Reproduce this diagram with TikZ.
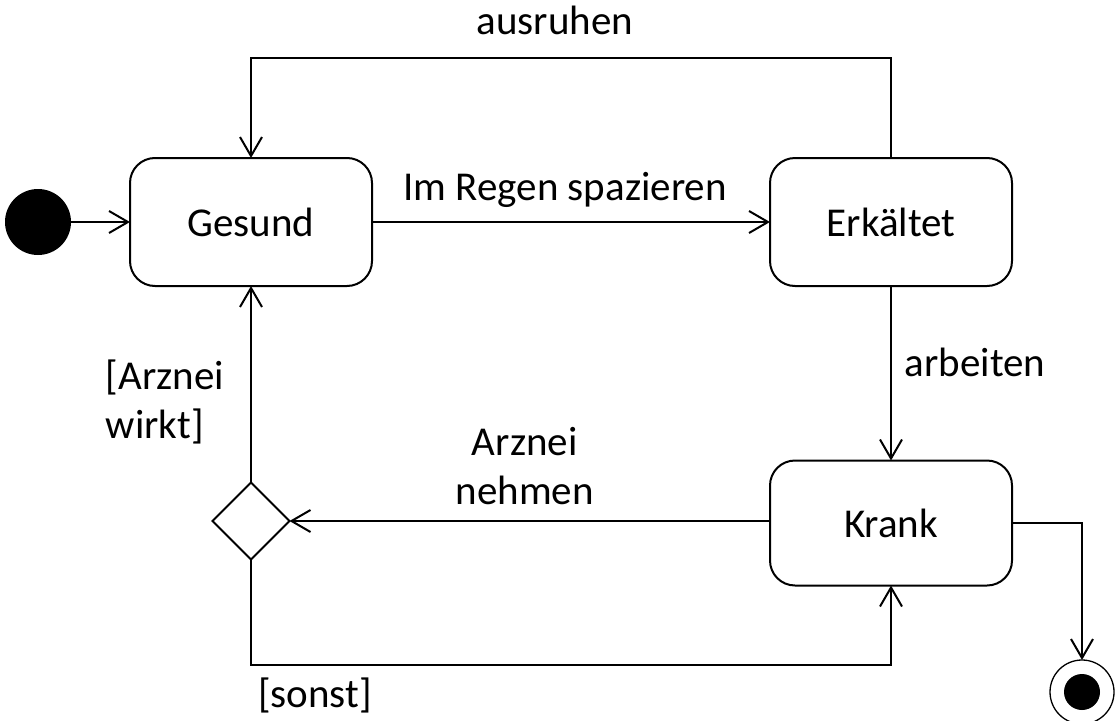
\documentclass[tikz,border=0pt]{standalone}
\usepackage{fontspec}
\setmainfont{Carlito}
\usetikzlibrary{arrows.meta,shapes.geometric}
\begin{document}
\begin{tikzpicture}[x=1pt,y=-1pt,
  line width=2pt,
  >={Straight Barb[length=19pt,width=22pt]},
  lbl/.style={font=\fontsize{41}{49}\selectfont, inner sep=0pt},
  state/.style={draw, rounded corners=25pt, minimum width=242pt, minimum height=128pt, inner sep=0pt, outer sep=0pt, font=\fontsize{41}{49}\selectfont},
  initstate/.style={circle, fill=black, draw=none, minimum size=66pt, inner sep=0pt, outer sep=0pt},
  finstate/.style={circle, draw, line width=1.3pt, minimum size=64pt, inner sep=0pt, outer sep=0pt},
  decision/.style={diamond, draw, aspect=1, minimum size=77pt, inner sep=0pt, outer sep=0pt}
]
\useasboundingbox (0,0) rectangle (1116,720);

\node[initstate] (init) at (38,222) {};
\node[state] (gesund) at (251,222) {Gesund};
\node[state] (erk) at (891,222) {Erkältet};
\node[state, minimum height=125pt] (krank) at (891,523) {Krank};
\node[decision] (dia) at (251,521) {};
\node[finstate] (fin) at (1082,692) {};
\fill (fin.center) circle (18pt);

\coordinate (top) at (555,58);
\coordinate (bot) at (570,665);

\draw[->] (init) -- (gesund);
\draw[->] (gesund) -- node[lbl, midway, yshift=32pt, xshift=-6pt] {Im Regen spazieren} (erk);
\draw[->] (erk.north) |- (top) -| (gesund.north);
\node[lbl] at (555,20) {ausruhen};
\draw[->] (erk) -- node[lbl, midway, xshift=84pt, yshift=11pt] {arbeiten} (krank);
\draw[->] (krank.west |- dia) -- node[lbl, midway, align=center, xshift=-5pt, yshift=55pt] {Arznei\\nehmen} (dia.east);
\draw[->] (dia) -- node[lbl, midway, align=left, xshift=-86pt, yshift=-18pt] {[Arznei\\wirkt]} (gesund);
\draw[->] (dia.south) |- node[lbl, pos=0.5, xshift=64pt, yshift=-30pt] {[sonst]} (bot) -| (krank.south);
\draw[->] (krank.east) -| (fin.north);
\end{tikzpicture}
\end{document}
